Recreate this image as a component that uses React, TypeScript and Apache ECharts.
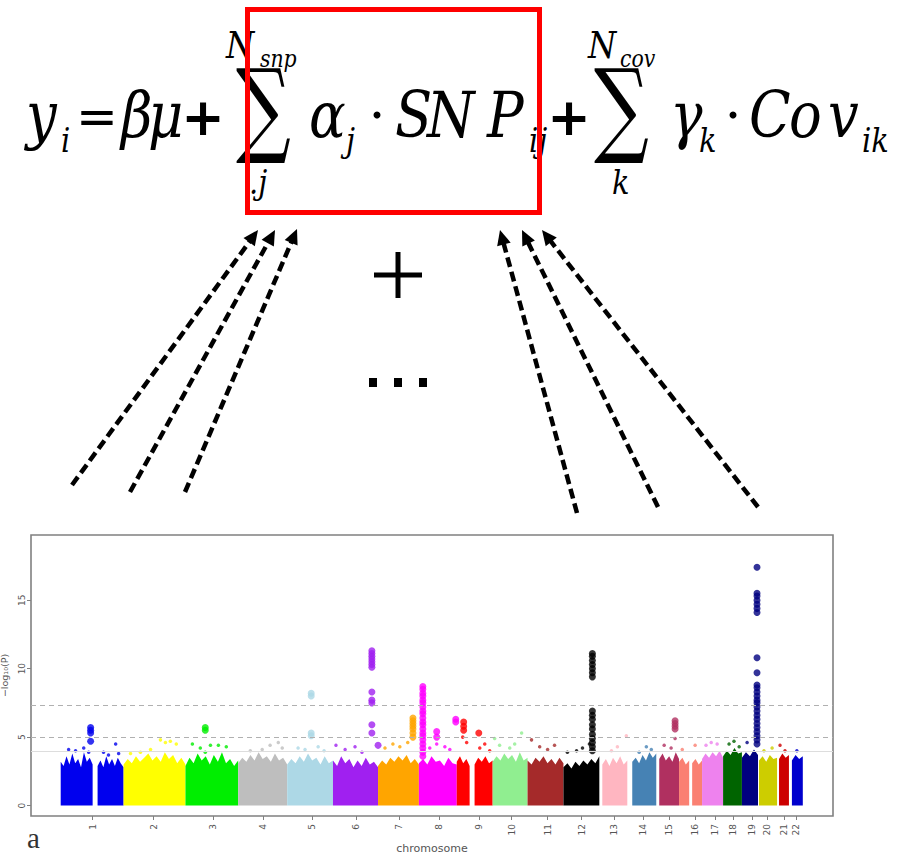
import React, { useEffect, useRef } from "react";
import * as echarts from "echarts";

// ---------- DATA ----------
const CHROM_LABELS = ["1","2","3","4","5","6","7","8","9","10","11","12","13","14","15","16","17","18","19","20","21","22"];
const CHROM_COLORS = ["#0000ee","#ffff00","#00ee00","#bebebe","#add8e6","#a020f0","#ffa500","#ff00ff","#ff0000","#90ee90","#a52a2a","#000000","#ffb6c1","#4682b4","#b03060","#fa8072","#ee82ee","#006400","#000080","#cdcd00","#cd0000","#0000cd"];
// chromosome tick positions (cumulative Mb)
const TICK_POS = [129,375,617,818,1015,1193,1366,1528,1689,1822,1967,2104,2237,2354,2459,2563,2644,2716,2793,2853,2922,2970];
// SNP blocks: [chromosome index, start Mb, end Mb]
const SEGMENTS = [
  [0,0,129],[0,149,254],[1,254,504],[2,504,717],[3,717,915],[4,915,1100],[5,1100,1282],[6,1282,1447],
  [7,1447,1600],[8,1600,1652],[8,1672,1745],[9,1745,1886],[10,1886,2031],[11,2031,2176],[12,2188,2289],
  [13,2309,2406],[14,2418,2498],[15,2498,2539],[15,2551,2591],[16,2591,2676],[17,2676,2752],[18,2752,2817],
  [19,2821,2894],[20,2902,2942],[21,2954,2998]
];
// upper envelope of the dense -log10(P) cloud for each block
const SEG_TOPS = [
  [3.2,2.9,3.6,3.0,3.8,3.1,3.4,2.8,3.9,3.2,3.5,3.0],
  [2.9,3.3,2.8,3.6,3.0,3.4,2.9,3.5,3.1,2.8],
  [3.0,3.4,3.1,3.6,3.2,3.5,3.8,3.3,3.6,3.2,3.9,3.4,3.7,3.1,3.5,3.0],
  [2.9,3.5,3.1,3.8,3.3,3.6,3.0,3.7,3.2,3.9,3.1,3.4,2.9,3.3],
  [3.1,3.5,3.2,3.7,3.3,3.9,3.4,3.6,3.2,3.8,3.3,3.5,3.0],
  [3.0,3.4,3.1,3.6,3.2,3.8,3.3,3.5,3.0,3.6,3.1,3.3],
  [3.3,2.9,3.6,3.1,3.4,2.8,3.3,2.9,3.5,3.0,3.2,2.8],
  [2.9,3.3,3.0,3.5,3.2,3.6,3.3,3.7,3.1,3.4,3.0],
  [3.1,3.4,3.0,3.6,3.2,3.3,2.9,3.5,3.1,3.0],
  [3.2,3.6,3.1,3.4,2.9],
  [3.0,3.5,3.2,3.6,3.1,3.3],
  [3.2,3.6,3.3,3.8,3.4,3.7,3.2,3.9,3.3,3.5],
  [3.3,3.0,3.5,3.2,3.6,3.1,3.4,3.0,3.5,3.1],
  [2.8,3.1,2.7,3.2,2.9,3.3,3.0,3.4,3.1,3.6],
  [3.0,3.4,2.9,3.5,3.1,3.6,3.0,3.3],
  [3.2,3.5,3.1,3.7,3.3,3.9,3.5,3.8],
  [3.4,3.8,3.3,3.6,3.2,3.9,3.4],
  [3.2,3.5,3.0,3.3],
  [3.1,3.4,3.0,3.3],
  [3.4,3.8,3.5,3.9,3.6,4.0,3.5],
  [3.6,4.0,3.7,4.2,3.8,3.9],
  [3.5,3.9,3.6,4.1,3.7],
  [3.3,3.6,3.2,3.7,3.4,3.5],
  [3.4,3.8,3.5,3.7],
  [3.3,3.7,3.4,3.6]
];
// scattered small hits: [chromosome index, position Mb, -log10(P)]
const HITS = [
  [0,32,4.1],[0,60,4.0],[0,93,4.2],[0,113,3.9],[0,173,3.9],[0,193,3.7],[0,222,4.5],[0,234,3.8],
  [1,282,3.8],[1,322,3.9],[1,363,4.1],[1,403,4.8],[1,423,4.6],[1,443,4.7],[1,467,4.5],
  [2,532,4.5],[2,564,4.2],[2,584,3.9],[2,605,4.4],[2,637,4.4],[2,669,4.3],
  [3,766,4.0],[3,814,4.1],[3,846,4.4],[3,879,4.6],[3,895,4.2],
  [4,959,4.2],[4,987,4.1],[4,1040,4.3],[4,1064,4.0],
  [5,1112,4.4],[5,1149,4.1],[5,1189,4.3],[5,1217,3.9],
  [6,1310,4.2],[6,1342,4.5],[6,1370,4.3],[6,1402,4.6],
  [7,1491,4.2],[7,1519,4.5],[7,1552,4.3],[7,1572,4.1],
  [8,1624,5.0],[8,1640,4.6],[8,1693,4.2],[8,1713,4.5],[8,1733,4.0],
  [9,1753,4.9],[9,1773,4.4],[9,1814,4.2],[9,1834,4.5],[9,1862,5.3],
  [10,1902,4.8],[10,1935,4.3],[10,1967,4.1],[10,1995,4.4],
  [11,2047,3.9],[11,2084,4.0],[11,2108,4.2],[11,2136,4.5],
  [12,2225,4.0],[12,2249,4.3],[12,2285,5.1],
  [13,2337,3.9],[13,2366,4.3],[13,2386,4.1],
  [14,2438,4.4],[14,2466,4.2],[14,2482,4.9],
  [15,2511,4.1],[15,2563,4.4],
  [16,2607,4.4],[16,2628,4.6],[16,2652,4.5],
  [17,2700,4.5],[17,2720,4.7],[17,2741,4.3],
  [18,2773,4.6],
  [19,2841,4.0],[19,2874,4.2],
  [20,2906,4.4],[20,2926,4.0],
  [21,2974,4.0]
];
// associated loci: [chromosome index, position Mb, -log10(P) values]
const PEAKS = [
  [0,121,[5.7,5.5,5.3,4.7]],
  [2,584,[5.7,5.5]],
  [4,1012,[8.2,8.0,5.3,5.1]],
  [5,1257,[11.3,11.1,10.9,10.7,10.5,10.3,10.1,8.3,7.7,7.5,5.9,5.3]],
  [5,1282,[4.4]],
  [6,1423,[6.4,6.2,6.0,5.8,5.6,5.3,5.0]],
  [7,1463,[8.7,8.5,8.2,8.0,7.7,7.5,7.2,6.9,6.7,6.4,6.1,5.9,5.6,5.3,5.1,4.8,4.5,4.2,3.9,3.6]],
  [7,1519,[5.4,5.0]],
  [7,1596,[6.3,6.1]],
  [8,1628,[6.1,5.8,5.5]],
  [8,1689,[5.3]],
  [11,2148,[11.1,10.9,10.6,10.3,10.0,9.7,9.4,6.9,6.6,6.3,5.9,5.6,5.2,4.9,4.6,4.3,4.0]],
  [14,2482,[6.2,6.0,5.8,5.6]],
  [18,2813,[17.4,15.5,15.3,15.0,14.7,14.4,14.1,10.8,9.7,8.8,8.6,8.3,8.0,7.7,7.5,7.2,6.9,6.6,6.3,6.0,5.7,5.4,5.1,4.8,4.5]]
];
const THRESHOLDS = [7.3, 5, 4];
const Y_TICKS = [0, 5, 10, 15];

// ---------- EQUATION / ANNOTATION HELPERS ----------
const SERIF = '"DejaVu Serif", serif';
function itext(t: string, x: number, base: number, size: number, sx = 0.85): any {
  return {
    type: "text",
    x,
    y: base - 0.346 * size,
    scaleX: sx,
    z: 10,
    style: {
      text: t,
      font: `italic ${size}px ${SERIF}`,
      fill: "#000",
      textAlign: "left",
      align: "left",
      textVerticalAlign: "middle",
      verticalAlign: "middle",
    },
  };
}
function ctext(t: string, cx: number, cy: number, size: number, family: string, weight = "normal"): any {
  return {
    type: "text",
    x: cx,
    y: cy,
    z: 10,
    style: {
      text: t,
      font: `${weight} ${size}px ${family}`,
      fill: "#000",
      textAlign: "center",
      align: "center",
      textVerticalAlign: "middle",
      verticalAlign: "middle",
    },
  };
}
function sigma(x: number, base: number): any {
  const size = 104;
  return {
    type: "text",
    x,
    y: base - 0.346 * size,
    scaleX: 0.74,
    z: 10,
    style: {
      text: "\u2211",
      font: `${size}px ${SERIF}`,
      fill: "#000",
      textAlign: "left",
      align: "left",
      textVerticalAlign: "middle",
      verticalAlign: "middle",
    },
  };
}
function arrow(x1: number, y1: number, x2: number, y2: number): any[] {
  const dx = x2 - x1, dy = y2 - y1;
  const L = Math.sqrt(dx * dx + dy * dy);
  const ux = dx / L, uy = dy / L;
  const nx = -uy, ny = ux;
  const hl = 15, hw = 7;
  const bx = x2 - ux * hl, by = y2 - uy * hl;
  return [
    {
      type: "line",
      z: 10,
      shape: { x1, y1, x2: x2 - ux * 12, y2: y2 - uy * 12 },
      style: { stroke: "#000", lineWidth: 4.5, lineDash: [10, 5] },
    },
    {
      type: "polygon",
      z: 10,
      shape: { points: [[x2, y2], [bx + nx * hw, by + ny * hw], [bx - nx * hw, by - ny * hw]] },
      style: { fill: "#000" },
    },
  ];
}

export default function App() {
  const ref = useRef<HTMLDivElement>(null);
  useEffect(() => {
    if (!ref.current) return;
    const chart = echarts.init(ref.current, null, { renderer: "svg" });

    const segData = SEGMENTS.map((s, i) => [i, s[1], s[2]]);
    const hitData = HITS.map((h) => ({ value: [h[1], h[2]], itemStyle: { color: CHROM_COLORS[h[0] as number] } }));
    const peakData: any[] = [];
    PEAKS.forEach((p: any) => {
      (p[2] as number[]).forEach((v) => {
        peakData.push({ value: [p[1], v], itemStyle: { color: CHROM_COLORS[p[0]] } });
      });
    });

    const graphics: any[] = [
      itext("y", 26, 137, 64),
      itext("i", 61, 152, 34),
      ctext("=", 97, 117, 50, '"DejaVu Sans", sans-serif'),
      itext("\u03b2", 121, 137, 64),
      itext("\u03bc", 148, 137, 64),
      ctext("+", 203, 117, 52, '"DejaVu Sans", sans-serif', "bold"),
      itext("N", 226, 58, 38),
      itext("snp", 260, 67, 24),
      sigma(236, 143),
      itext(".j", 249, 194, 34),
      itext("\u03b1", 309, 137, 64),
      itext("j", 346, 152, 34),
      { type: "circle", z: 10, shape: { cx: 377, cy: 115, r: 3.5 }, style: { fill: "#000" } },
      itext("S", 395, 137, 64),
      itext("N", 427, 137, 64),
      itext("P", 487, 137, 64),
      itext("ij", 529, 152, 34),
      ctext("+", 569, 117, 52, '"DejaVu Sans", sans-serif', "bold"),
      itext("N", 588, 58, 38),
      itext("cov", 620, 67, 24),
      sigma(594, 143),
      itext("k", 612, 194, 34),
      itext("\u03b3", 670, 137, 64),
      itext("k", 699, 152, 34),
      { type: "circle", z: 10, shape: { cx: 733, cy: 115, r: 3.5 }, style: { fill: "#000" } },
      itext("C", 749, 137, 64),
      itext("o", 789, 137, 64),
      itext("v", 828, 137, 64),
      itext("ik", 862, 152, 34),
      {
        type: "rect",
        z: 20,
        shape: { x: 247.5, y: 9.5, width: 292, height: 203 },
        style: { fill: "none", stroke: "#ff0000", lineWidth: 5 },
      },
      // "+" and "..." between equation and plot
      { type: "line", z: 10, shape: { x1: 374, y1: 275, x2: 422, y2: 275 }, style: { stroke: "#000", lineWidth: 5 } },
      { type: "line", z: 10, shape: { x1: 398, y1: 252, x2: 398, y2: 298 }, style: { stroke: "#000", lineWidth: 5 } },
      { type: "rect", z: 10, shape: { x: 369, y: 378, width: 8, height: 9 }, style: { fill: "#000" } },
      { type: "rect", z: 10, shape: { x: 394, y: 378, width: 8, height: 9 }, style: { fill: "#000" } },
      { type: "rect", z: 10, shape: { x: 419, y: 378, width: 8, height: 9 }, style: { fill: "#000" } },
      ...arrow(72, 485, 258, 230),
      ...arrow(130, 492, 275, 230),
      ...arrow(185, 492, 297, 229),
      ...arrow(577, 513, 500, 230),
      ...arrow(658, 507, 522, 230),
      ...arrow(758, 507, 542, 230),
      {
        type: "text",
        x: 27,
        y: 838,
        z: 10,
        style: {
          text: "a",
          font: '29px "Liberation Serif", serif',
          fill: "#333",
          textAlign: "left",
          align: "left",
          textVerticalAlign: "middle",
          verticalAlign: "middle",
        },
      },
    ];

    const option: any = {
      animation: false,
      backgroundColor: "#ffffff",
      grid: {
        left: 31,
        right: 79,
        top: 535,
        bottom: 39,
        show: true,
        containLabel: false,
        outerBoundsMode: "none",
        borderColor: "#808080",
        borderWidth: 1.6,
        backgroundColor: "transparent",
      },
      xAxis: {
        type: "value",
        min: -120,
        max: 3120,
        axisLine: { show: false, onZero: false },
        splitLine: { show: false },
        axisTick: { show: true, customValues: TICK_POS, length: 4, lineStyle: { color: "#808080" } },
        axisLabel: {
          customValues: TICK_POS,
          formatter: (v: number) => {
            const i = TICK_POS.indexOf(v);
            return i >= 0 ? CHROM_LABELS[i] : "";
          },
          rotate: 90,
          fontSize: 9,
          color: "#555",
          margin: 8,
          fontFamily: '"DejaVu Sans", sans-serif',
        },
        name: "chromosome",
        nameLocation: "middle",
        nameGap: 27,
        nameTextStyle: { fontSize: 11, color: "#555", fontFamily: '"DejaVu Sans", sans-serif' },
      },
      yAxis: {
        type: "value",
        min: -0.76,
        max: 19.76,
        axisLine: { show: false, onZero: false },
        splitLine: { show: false },
        axisTick: { show: true, customValues: Y_TICKS, length: 4, lineStyle: { color: "#808080" } },
        axisLabel: {
          customValues: Y_TICKS,
          rotate: 90,
          fontSize: 9,
          color: "#555",
          margin: 5,
          fontFamily: '"DejaVu Sans", sans-serif',
        },
        name: "\u2212log\u2081\u2080(P)",
        nameLocation: "middle",
        nameGap: 15,
        nameRotate: 90,
        nameTextStyle: { fontSize: 9.5, color: "#555", fontFamily: '"DejaVu Sans", sans-serif' },
      },
      graphic: { elements: graphics },
      series: [
        {
          type: "line",
          data: [],
          z: 1,
          silent: true,
          markLine: {
            silent: true,
            symbol: "none",
            label: { show: false },
            data: THRESHOLDS.map((t, i) => ({
              yAxis: t,
              lineStyle: {
                color: i === 2 ? "#dddddd" : "#b0b0b0",
                type: i === 2 ? "solid" : [5, 4],
                width: 1.2,
              },
            })),
          },
        },
        {
          type: "custom",
          z: 2,
          silent: true,
          clip: true,
          encode: { x: [1, 2] },
          data: segData,
          renderItem: (params: any, api: any) => {
            const si = api.value(0);
            const seg = SEGMENTS[si];
            const tops = SEG_TOPS[si];
            const pts: number[][] = [api.coord([seg[1], 0])];
            tops.forEach((h, k) => {
              pts.push(api.coord([seg[1] + ((seg[2] - seg[1]) * k) / (tops.length - 1), h]));
            });
            pts.push(api.coord([seg[2], 0]));
            return { type: "polygon", shape: { points: pts }, style: { fill: CHROM_COLORS[seg[0]] } };
          },
        },
        {
          type: "scatter",
          z: 3,
          silent: true,
          symbol: "circle",
          symbolSize: 3.5,
          data: hitData,
        },
        {
          type: "scatter",
          z: 4,
          silent: true,
          symbol: "circle",
          symbolSize: 7,
          data: peakData,
        },
      ],
    };
    chart.setOption(option);
    return () => chart.dispose();
  }, []);
  return (
    <div
      ref={ref}
      style={{ position: "absolute", left: 0, top: 0, width: 912, height: 855, background: "#fff" }}
    />
  );
}
